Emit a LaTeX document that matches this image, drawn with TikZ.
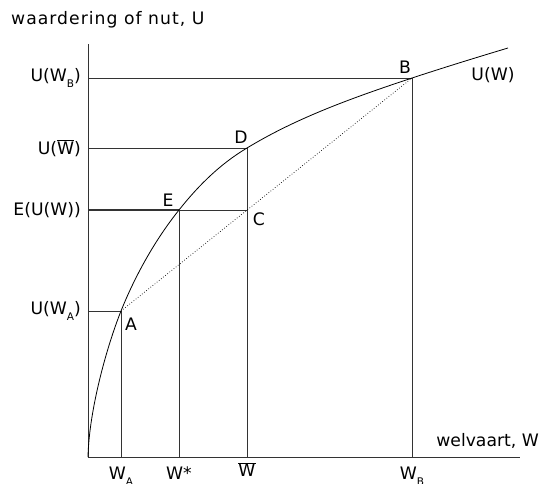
\documentclass[tikz,border=0pt]{standalone}
\usepackage{fontspec}
\setmainfont{DejaVu Sans}
\newfontfamily\widefont[LetterSpace=6]{DejaVu Sans}
\newcommand{\lowsub}[1]{\raisebox{-0.65ex}{\fontsize{10.5}{10.5}\selectfont #1}}
\newcommand{\wbar}{$\overline{\mbox{W}}$}
\tikzset{
  lbl/.style={font=\fontsize{17.2}{20}\selectfont, inner sep=0pt, text=black},
  axisline/.style={line width=0.8pt, draw=black!80},
  guide/.style={line width=0.7pt, draw=black!80},
  curve/.style={line width=0.8pt, draw=black},
  chord/.style={line width=0.7pt, dotted, draw=black},
}
\begin{document}
\begin{tikzpicture}[x=1pt,y=-1pt]
\useasboundingbox (0,0) rectangle (541,483);
% key points
\coordinate (O) at (88,457);
\coordinate (Ytop) at (88,44);
\coordinate (Xend) at (520,457);
\coordinate (A) at (121,311);
\coordinate (E) at (179,210);
\coordinate (D) at (247,148);
\coordinate (C) at (247,210);
\coordinate (B) at (412,78);
\coordinate (Uend) at (508,48);
% axes
\draw[axisline] (Ytop) -- (O) -- (Xend);
% guides
\draw[guide] (O |- B) -- (B) -- (O -| B);
\draw[guide] (O |- D) -- (D) -- (O -| D);
\draw[guide, line width=1.1pt] (O |- E) -- (E);
\draw[guide] (E) -- (C);
\draw[guide] (E) -- (O -| E);
\draw[guide] (O |- A) -- (A) -- (O -| A);
% chord
\draw[chord] (A) -- (B);
% utility curve
\draw[curve] (O) .. controls (89,410) and (107,346) .. (A)
  .. controls (135,276) and (155,240) .. (E)
  .. controls (198,186) and (220,164) .. (D)
  .. controls (298,117) and (355,97) .. (B)
  .. controls (444,67.5) and (476,57.6) .. (Uend);
% labels
\node[lbl, anchor=west, font=\fontsize{17.2}{20}\selectfont\widefont] (ylab) at (11,20) {waardering of nut, U};
\node[lbl, anchor=east] (xlab) at (539,441) {welvaart, W};
\node[lbl, anchor=east] (lUB) at (81,78) {U(W\lowsub{B})};
\node[lbl, anchor=east] (lUW) at (81,148) {U(\wbar)};
\node[lbl, anchor=east] (lEU) at (81,210) {E(U(W))};
\node[lbl, anchor=east] (lUA) at (81,311) {U(W\lowsub{A})};
\node[lbl] (tB) at (405,67) {B};
\node[lbl] (tD) at (241,137) {D};
\node[lbl] (tE) at (168,200) {E};
\node[lbl] (tC) at (259,219) {C};
\node[lbl] (tA) at (131,324) {A};
\node[lbl] (tU) at (493,75) {U(W)};
\node[lbl, anchor=north] (xA) at (121,467) {W\lowsub{A}};
\node[lbl, anchor=north] (xS) at (179,467) {W*};
\node[lbl, anchor=north] (xW) at (247,462) {\wbar};
\node[lbl, anchor=north] (xB) at (412,467) {W\lowsub{B}};
\end{tikzpicture}
\end{document}
